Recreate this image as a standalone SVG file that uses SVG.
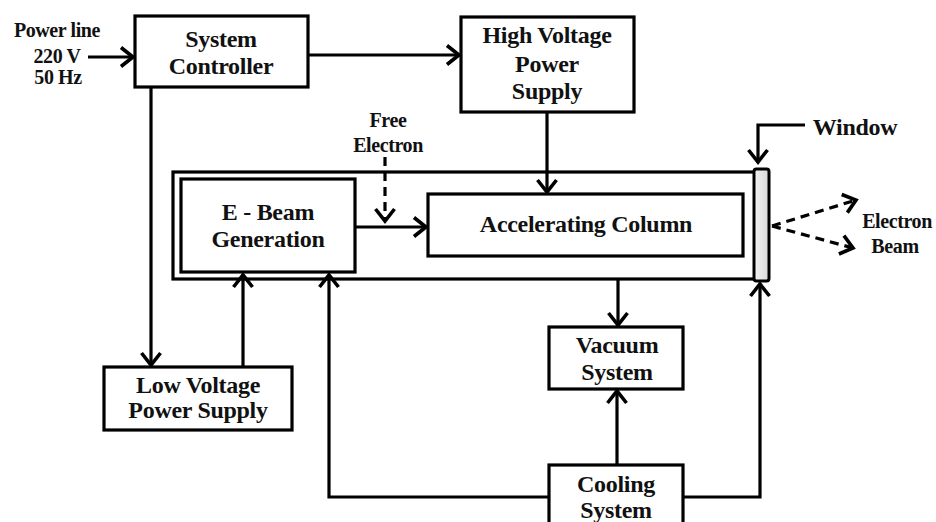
<svg xmlns="http://www.w3.org/2000/svg" width="936" height="522" viewBox="0 0 936 522">
<style>
.box{fill:#fff;stroke:#000;stroke-width:3.2}
.frame{fill:none;stroke:#000;stroke-width:3.2}
.t{font-family:"Liberation Serif","Times New Roman",serif;font-weight:bold;fill:#111;text-anchor:middle;font-size:24px;letter-spacing:-0.3px}
.s{font-size:20px;letter-spacing:-0.4px}
.c{fill:none;stroke:#000;stroke-width:3.2}
.d{stroke-dasharray:9 6}
</style>
<defs>
<marker id="ah" markerUnits="userSpaceOnUse" viewBox="-16 -12 20 24" refX="0" refY="0" markerWidth="20" markerHeight="24" orient="auto">
<path d="M-12,-9.5 L0,0 L-12,9.5" fill="none" stroke="#000" stroke-width="3.6" stroke-linejoin="miter"/>
</marker>
<linearGradient id="wg" x1="0" x2="1" y1="0" y2="0">
<stop offset="0" stop-color="#f4f4f4"/>
<stop offset="1" stop-color="#d8d8d8"/>
</linearGradient>
</defs>

<g id="outer-frame">
<rect class="frame" x="173" y="172" width="582" height="107"/>
</g>

<g id="system-controller">
<rect class="box" x="135" y="16" width="173" height="71"/>
<text class="t" x="221" y="47">System</text>
<text class="t" x="221" y="74">Controller</text>
</g>

<g id="high-voltage">
<rect class="box" x="461" y="17" width="173" height="95"/>
<text class="t" x="547" y="43">High Voltage</text>
<text class="t" x="547" y="72">Power</text>
<text class="t" x="547" y="99">Supply</text>
</g>

<g id="e-beam">
<rect class="box" x="181" y="179" width="174" height="93"/>
<text class="t" x="268" y="220">E - Beam</text>
<text class="t" x="268" y="247">Generation</text>
</g>

<g id="accelerating-column">
<rect class="box" x="428" y="194" width="315" height="62"/>
<text class="t" x="586" y="232">Accelerating Column</text>
</g>

<g id="window">
<rect x="754" y="169" width="15" height="112" rx="2.5" fill="url(#wg)" stroke="#000" stroke-width="3"/>
<text class="t" x="855" y="135">Window</text>
</g>

<g id="low-voltage">
<rect class="box" x="104" y="367" width="188" height="63"/>
<text class="t" x="198" y="393">Low Voltage</text>
<text class="t" x="198" y="418">Power Supply</text>
</g>

<g id="vacuum-system">
<rect class="box" x="549" y="327" width="134" height="62"/>
<text class="t" x="617" y="353">Vacuum</text>
<text class="t" x="617" y="380">System</text>
</g>

<g id="cooling-system">
<rect class="box" x="549" y="465" width="134" height="70"/>
<text class="t" x="616" y="492">Cooling</text>
<text class="t" x="616" y="518">System</text>
</g>

<g id="power-line">
<text class="t s" x="57" y="37">Power line</text>
<text class="t s" x="57" y="63">220 V</text>
<text class="t s" x="58" y="84">50 Hz</text>
</g>

<g id="free-electron">
<text class="t s" x="388" y="127">Free</text>
<text class="t s" x="388" y="152">Electron</text>
</g>

<g id="electron-beam">
<text class="t s" x="897" y="228">Electron</text>
<text class="t s" x="895" y="253">Beam</text>
</g>

<g id="connectors">
<path class="c" d="M88,57 H133" marker-end="url(#ah)"/>
<path class="c" d="M308,55 H459" marker-end="url(#ah)"/>
<path class="c" d="M547,112 V192" marker-end="url(#ah)"/>
<path class="c" d="M355,227 H426" marker-end="url(#ah)"/>
<path class="c d" d="M385,157 V221" marker-end="url(#ah)"/>
<path class="c" d="M151,87 V365" marker-end="url(#ah)"/>
<path class="c" d="M243,367 V275" marker-end="url(#ah)"/>
<path class="c" d="M549,497 H329 V275" marker-end="url(#ah)"/>
<path class="c" d="M618,279 V325" marker-end="url(#ah)"/>
<path class="c" d="M617,465 V391" marker-end="url(#ah)"/>
<path class="c" d="M683,497 H760 V284" marker-end="url(#ah)"/>
<path class="c" d="M805,125 H758 V162" marker-end="url(#ah)"/>
<path class="c d" d="M772,226 L856,200" marker-end="url(#ah)"/>
<path class="c d" d="M772,226 L853,248" marker-end="url(#ah)"/>
</g>
</svg>
